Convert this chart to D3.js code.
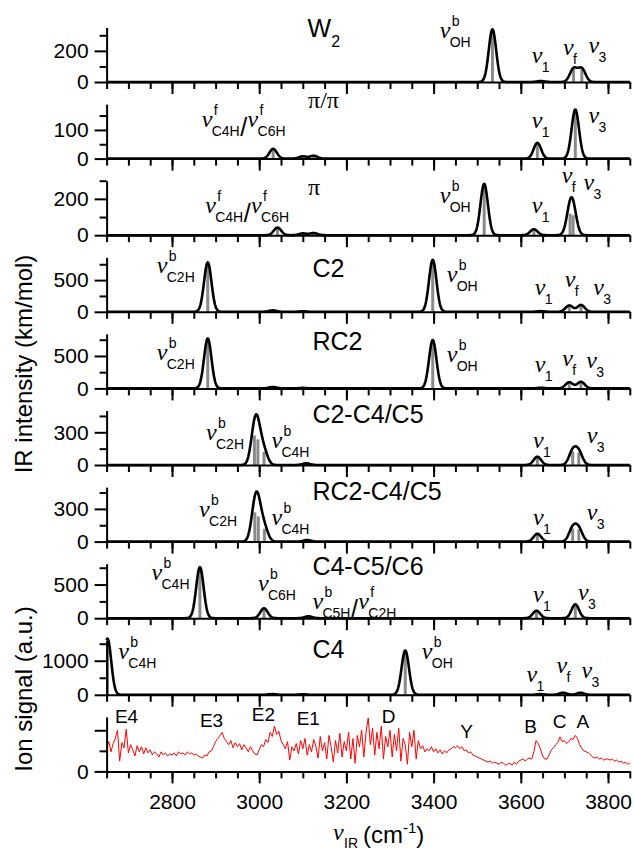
<!DOCTYPE html>
<html>
<head>
<meta charset="utf-8">
<script src="https://cdn.jsdelivr.net/npm/d3@7"></script>
<style>
  body { margin: 0; background: #fff; }
  svg { display: block; font-family: "Liberation Sans", Arial, sans-serif; }
  .nu { font-family: "Liberation Serif", "Times New Roman", serif; font-style: italic; font-size: 24px; }
  .sup, .sub { font-size: 14px; }
  .title { font-size: 25px; }
  .peak { font-size: 19px; }
</style>
</head>
<body>
<div id="chart"></div>
<script>
const width = 635;
const height = 852;

// calculated stick spectra: [wavenumber (cm-1), IR intensity (km/mol)]
const sticksW2 = [[3535, 338], [3646, 6], [3721, 85], [3740, 85]];
const sticksPiPi = [[3032, 34], [3100, 8], [3125, 10], [3638, 55], [3725, 171]];
const sticksPi = [[3042, 42], [3100, 10], [3125, 12], [3516, 283], [3630, 33], [3713, 118], [3720, 110]];
const sticksC2 = [[2882, 780], [3031, 22], [3100, 8], [3398, 820], [3646, 10], [3711, 100], [3738, 108]];
const sticksRC2 = [[2882, 770], [3031, 22], [3100, 8], [3398, 745], [3646, 10], [3711, 95], [3738, 102]];
const sticksC2C4 = [[2989, 270], [2997, 235], [3011, 120], [3108, 15], [3638, 76], [3719, 125], [3733, 115]];
const sticksRC2C4 = [[2990, 268], [2998, 232], [3012, 118], [3110, 14], [3638, 72], [3719, 120], [3733, 112]];
const sticksC4C5C6 = [[2864, 760], [3011, 147], [3113, 28], [3636, 110], [3725, 206]];
const sticksC4 = [[2652, 1650], [3030, 20], [3100, 15], [3335, 1300], [3645, 20], [3697, 60], [3737, 60]];

// measured IR spectrum (ion signal, a.u.), 2650-3850 cm-1 every 5 cm-1
const ionStart = 2650;
const ionStep = 5;
const ionSignal = [
  1.1, 1.45, 0.95, 1.35, 1.6, 2.0, 0.5, 1.4, 1.15, 2.05,
  0.9, 1.3, 1.05, 0.75, 1.25, 0.95, 1.2, 0.85, 1.15, 0.9,
  1.05, 0.8, 0.95, 0.85, 0.7, 0.95, 0.8, 0.9, 0.75, 0.85,
  0.8, 0.9, 0.75, 0.95, 0.85, 0.9, 0.8, 0.95, 0.85, 0.9,
  0.8, 0.85, 0.75, 0.7, 0.65, 0.8, 0.75, 0.95, 1.0, 1.2,
  1.45, 1.6, 1.75, 1.9, 1.6, 1.45, 1.3, 1.5, 1.15, 1.4,
  1.2, 1.35, 1.05, 1.3, 1.15, 0.95, 1.2, 1.0, 0.85, 0.8,
  1.05, 1.3, 1.2, 1.55, 1.4, 1.9, 1.7, 2.2, 1.8, 1.95,
  1.5, 1.3, 1.1, 1.45, 0.55, 1.2, 1.0, 1.35, 0.85, 1.5,
  1.1, 1.6, 0.8, 1.3, 0.95, 1.55, 1.2, 0.65, 1.7, 1.0,
  1.4, 0.6, 1.75, 1.2, 0.45, 1.5, 0.9, 1.85, 0.7, 1.45,
  1.0, 1.9, 0.6, 1.6, 0.4, 1.75, 1.2, 2.0, 0.7, 1.9,
  2.6, 1.3, 2.1, 0.8, 1.9, 1.1, 2.2, 0.6, 1.7, 1.2,
  2.0, 0.7, 1.8, 1.0, 2.1, 0.5, 1.6, 1.3, 0.35, 1.9,
  1.2, 2.0, 0.6, 1.5, 1.1, 1.25, 0.95, 1.1, 1.0, 1.2,
  0.95, 1.1, 0.9, 1.05, 0.85, 1.0, 0.9, 1.05, 1.1, 1.2,
  1.15, 1.25, 1.1, 1.2, 1.0, 1.05, 0.9, 0.95, 0.8, 0.75,
  0.7, 0.65, 0.6, 0.55, 0.5, 0.45, 0.5, 0.4, 0.45, 0.4,
  0.35, 0.45, 0.4, 0.3, 0.35, 0.4, 0.3, 0.45, 0.35, 0.5,
  0.55, 0.6, 0.5, 0.6, 0.65, 0.6, 0.95, 1.5, 1.35, 1.1,
  0.75, 0.6, 0.6, 0.8, 1.05, 1.15, 1.3, 1.4, 1.68, 1.45,
  1.5, 1.35, 1.45, 1.6, 1.55, 1.75, 1.6, 1.3, 1.1, 1.0,
  0.95, 0.9, 0.8, 0.7, 0.65, 0.7, 0.6, 0.65, 0.55, 0.6,
  0.6, 0.55, 0.6, 0.5, 0.55, 0.45, 0.5, 0.4, 0.45, 0.35,
  0.4
];

const xTicksMajor = [2800, 3000, 3200, 3400, 3600, 3800];
const xTicksMinor = d3.range(2650, 3851, 50);

// label anchors: wavenumber + fraction of panel height
const panels = [
  { sticks: sticksW2, max: 350, major: [0, 200], minor: [100, 300],
    title: { f: 3111, h: 0.83, text: "W", sub: "2" },
    labels: [
      { f: 3414, h: 0.81, sup: "b", sub: "OH" },
      { f: 3625, h: 0.35, sub: "1" },
      { f: 3697, h: 0.50, sub: "f" },
      { f: 3755, h: 0.53, sub: "3" }] },
  { sticks: sticksPiPi, max: 190, major: [0, 100], minor: [50, 150],
    title: { f: 3112, h: 0.93, text: "π/π", serif: true },
    labels: [
      { f: 2868, h: 0.58, pair: [["f", "C4H"], ["f", "C6H"]] },
      { f: 3625, h: 0.56, sub: "1" },
      { f: 3755, h: 0.65, sub: "3" }] },
  { sticks: sticksPi, max: 300, major: [0, 200], minor: [100, 300],
    title: { f: 3112, h: 0.74, text: "π", serif: true },
    labels: [
      { f: 3414, h: 0.59, sup: "b", sub: "OH" },
      { f: 2876, h: 0.41, pair: [["f", "C4H"], ["f", "C6H"]] },
      { f: 3625, h: 0.41, sub: "1" },
      { f: 3694, h: 0.96, sub: "f" },
      { f: 3744, h: 0.83, sub: "3" }] },
  { sticks: sticksC2, max: 860, major: [0, 500], minor: [250, 750],
    title: { f: 3122, h: 0.64, text: "C2" },
    labels: [
      { f: 2765, h: 0.71, sup: "b", sub: "C2H" },
      { f: 3430, h: 0.55, sup: "b", sub: "OH" },
      { f: 3632, h: 0.31, sub: "1" },
      { f: 3701, h: 0.46, sub: "f" },
      { f: 3766, h: 0.31, sub: "3" }] },
  { sticks: sticksRC2, max: 840, major: [0, 500], minor: [250, 750],
    title: { f: 3122, h: 0.70, text: "RC2" },
    labels: [
      { f: 2765, h: 0.52, sup: "b", sub: "C2H" },
      { f: 3430, h: 0.48, sup: "b", sub: "OH" },
      { f: 3632, h: 0.30, sub: "1" },
      { f: 3695, h: 0.42, sub: "f" },
      { f: 3750, h: 0.37, sub: "3" }] },
  { sticks: sticksC2C4, max: 500, major: [0, 300], minor: [150, 450],
    title: { f: 3122, h: 0.77, text: "C2-C4/C5" },
    labels: [
      { f: 2878, h: 0.46, sup: "b", sub: "C2H" },
      { f: 3028, h: 0.31, sup: "b", sub: "C4H" },
      { f: 3628, h: 0.31, sub: "1" },
      { f: 3751, h: 0.40, sub: "3" }] },
  { sticks: sticksRC2C4, max: 500, major: [0, 300], minor: [150, 450],
    title: { f: 3122, h: 0.77, text: "RC2-C4/C5" },
    labels: [
      { f: 2862, h: 0.46, sup: "b", sub: "C2H" },
      { f: 3028, h: 0.31, sup: "b", sub: "C4H" },
      { f: 3628, h: 0.31, sub: "1" },
      { f: 3751, h: 0.40, sub: "3" }] },
  { sticks: sticksC4C5C6, max: 810, major: [0, 500], minor: [250, 750],
    title: { f: 3122, h: 0.80, text: "C4-C5/C6" },
    labels: [
      { f: 2753, h: 0.71, sup: "b", sub: "C4H" },
      { f: 2997, h: 0.49, sup: "b", sub: "C6H" },
      { f: 3122, h: 0.16, pair: [["b", "C5H"], ["f", "C2H"]] },
      { f: 3628, h: 0.29, sub: "1" },
      { f: 3731, h: 0.34, sub: "3" }] },
  { sticks: sticksC4, max: 1600, major: [0, 1000], minor: [500, 1500],
    title: { f: 3122, h: 0.68, text: "C4" },
    labels: [
      { f: 2677, h: 0.65, sup: "b", sub: "C4H" },
      { f: 3373, h: 0.65, sup: "b", sub: "OH" },
      { f: 3613, h: 0.24, sub: "1" },
      { f: 3682, h: 0.40, sub: "f" },
      { f: 3739, h: 0.31, sub: "3" }] }
];

const ionLabels = [
  { f: 2669, h: 0.89, text: "E4" }, { f: 2864, h: 0.82, text: "E3" },
  { f: 2983, h: 0.93, text: "E2" }, { f: 3086, h: 0.85, text: "E1" },
  { f: 3281, h: 0.89, text: "D" }, { f: 3461, h: 0.61, text: "Y" },
  { f: 3608, h: 0.70, text: "B" }, { f: 3673, h: 0.79, text: "C" },
  { f: 3728, h: 0.79, text: "A" }
];

const sigma = 8.5;
const panelTop = 82, panelStep = 76.6, panelH = 54.5;

const x = d3.scaleLinear().domain([2650, 3850]).range([106.6, 629.8]);

const svg = d3.select("#chart").append("svg")
  .attr("width", width).attr("height", height)
  .attr("viewBox", [0, 0, width, height]);

function nuLabel(g, px, py, sup, sub) {
  g.append("text").attr("class", "nu").attr("x", px).attr("y", py).text("ν");
  let end = px + 12;
  if (sup) {
    g.append("text").attr("class", "sup").attr("x", px + 12).attr("y", py - 12).text(sup);
  }
  if (sub) {
    const t = g.append("text").attr("class", "sub").attr("x", px + 10).attr("y", py + 9).text(sub);
    end = px + 10 + t.node().getComputedTextLength();
  }
  return end;
}

function drawAxes(g, y, base, showXLabels, majorY, minorY, yLabels) {
  // minor x ticks
  g.append("g").attr("transform", `translate(0,${base})`)
    .call(d3.axisBottom(x).tickValues(xTicksMinor).tickSize(7).tickFormat(""))
    .call(a => a.select(".domain").remove());
  const ax = g.append("g").attr("transform", `translate(0,${base})`)
    .call(d3.axisBottom(x).tickValues(xTicksMajor).tickSize(12).tickSizeOuter(0).tickPadding(11)
      .tickFormat(showXLabels ? d3.format("d") : ""));
  ax.select(".domain").attr("stroke-width", 2);
  ax.selectAll("text").style("font-size", "21px").attr("fill", "#000");

  g.append("g").attr("transform", `translate(${x.range()[0]},0)`)
    .call(d3.axisLeft(y).tickValues(minorY).tickSize(7).tickFormat(""))
    .call(a => a.select(".domain").remove());
  const ay = g.append("g").attr("transform", `translate(${x.range()[0]},0)`)
    .call(d3.axisLeft(y).tickValues(majorY).tickSize(12).tickSizeOuter(0).tickPadding(6)
      .tickFormat(d => yLabels.includes(d) ? d : ""));
  ay.select(".domain").attr("stroke-width", 2);
  ay.selectAll("text").style("font-size", "21px").attr("fill", "#000");
  g.selectAll(".tick line").attr("stroke-width", 2);
}

const grid = d3.range(2650, 3850.5, 1);

panels.forEach((p, i) => {
  const base = panelTop + i * panelStep;
  const y = d3.scaleLinear().domain([0, p.max]).range([base, base - panelH]);
  const g = svg.append("g");

  // broadened spectrum from the sticks
  const curve = grid.map(w => [w, d3.sum(p.sticks, s => s[1] * Math.exp(-((w - s[0]) ** 2) / (2 * sigma * sigma)))]);

  g.selectAll("line.stick").data(p.sticks).join("line")
    .attr("class", "stick")
    .attr("x1", d => x(d[0])).attr("x2", d => x(d[0]))
    .attr("y1", y(0)).attr("y2", d => y(Math.min(d[1], p.max)))
    .attr("stroke", "#8a8a8a").attr("stroke-width", 3);

  g.append("path").datum(curve)
    .attr("fill", "none").attr("stroke", "#000").attr("stroke-width", 2.6)
    .attr("stroke-linejoin", "round")
    .attr("d", d3.line().x(d => x(d[0])).y(d => y(d[1])));

  drawAxes(g, y, base, false, p.major, p.minor, p.major);

  // title
  const ty = base - p.title.h * panelH;
  const tt = g.append("text").attr("class", "title")
    .attr("x", x(p.title.f)).attr("y", ty);
  if (p.title.serif) tt.style("font-family", "'Liberation Serif', 'Times New Roman', serif").style("font-size", "24px");
  tt.append("tspan").text(p.title.text);
  if (p.title.sub) tt.append("tspan").attr("dy", 10).style("font-size", "16px").text(p.title.sub);

  p.labels.forEach(l => {
    const px = x(l.f), py = base - l.h * panelH;
    if (l.pair) {
      let end = nuLabel(g, px, py, l.pair[0][0], l.pair[0][1]);
      const sl = g.append("text").attr("x", end + 0.5).attr("y", py + 9)
        .style("font-size", "25px").text("/");
      end = end + 0.5 + sl.node().getComputedTextLength();
      nuLabel(g, end + 0.5, py, l.pair[1][0], l.pair[1][1]);
    } else {
      nuLabel(g, px, py, l.sup, l.sub);
    }
  });
});

// ion signal panel
{
  const i = 9;
  const base = panelTop + i * panelStep;
  const y = d3.scaleLinear().domain([0, 2.65]).range([base, base - panelH]);
  const g = svg.append("g");
  g.append("path").datum(ionSignal)
    .attr("fill", "none").attr("stroke", "#ff0000").attr("stroke-width", 1)
    .attr("d", d3.line().x((d, k) => x(ionStart + k * ionStep)).y(d => y(d)));
  drawAxes(g, y, base, true, [0, 2], [1], [0]);
  ionLabels.forEach(l => {
    g.append("text").attr("class", "peak")
      .attr("x", x(l.f)).attr("y", base - l.h * panelH).text(l.text);
  });
}

// axis titles
svg.append("text")
  .attr("transform", "translate(32,364) rotate(-90)")
  .attr("text-anchor", "middle").style("font-size", "24px")
  .text("IR intensity (km/mol)");
svg.append("text")
  .attr("transform", "translate(32,689) rotate(-90)")
  .attr("text-anchor", "middle").style("font-size", "24px")
  .text("Ion signal (a.u.)");

const xt = svg.append("g");
xt.append("text").attr("class", "nu").attr("x", 333).attr("y", 840).text("ν");
xt.append("text").attr("class", "sub").attr("x", 344).attr("y", 848).text("IR");
xt.append("text").attr("x", 363).attr("y", 843).style("font-size", "24px")
  .html('(cm<tspan dy="-10" style="font-size:15px">-1</tspan><tspan dy="10">)</tspan>');
</script>
</body>
</html>
